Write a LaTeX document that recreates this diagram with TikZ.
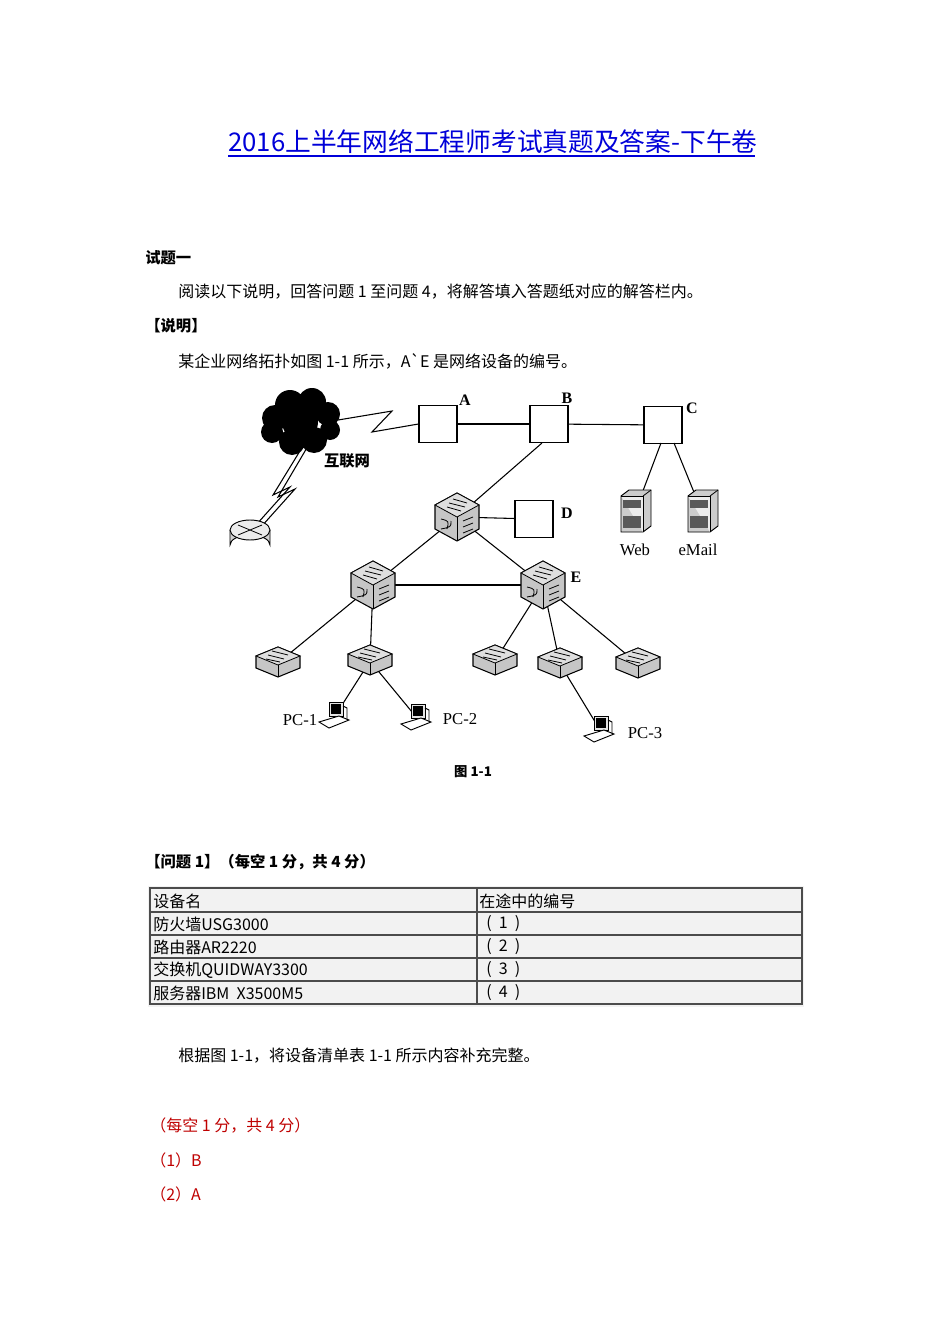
\documentclass[tikz,border=0pt]{standalone}
\usepackage{fontspec}
\setmainfont{Liberation Serif}
\newfontfamily\cjk{Noto Sans CJK SC}
\begin{document}
\begin{tikzpicture}[x=0.75pt,y=-0.75pt,
  txt/.style={anchor=west,inner sep=0,font=\cjk\fontsize{12}{14}\selectfont},
  btxt/.style={anchor=west,inner sep=0,font=\cjk\bfseries\fontsize{11.5}{13}\selectfont},
  rtxt/.style={txt,text=red!75!black},
  lbl/.style={inner sep=0,font=\bfseries\fontsize{12}{14}\selectfont},
  plbl/.style={inner sep=0,font=\fontsize{12.5}{14}\selectfont},
  dev/.style={draw,fill=white,minimum width=28.5pt,minimum height=28pt,inner sep=0,line width=0.8pt},
  pt/.style={inner sep=0,minimum size=0},
  ln/.style={line width=0.8pt},
  cell/.style={anchor=west,inner sep=0,font=\cjk\fontsize{12}{13}\selectfont},
  bigsw/.pic={\filldraw[fill=gray!45,line width=0.8pt] (0,-24)--(22,-12)--(22,12)--(0,24)--(-22,12)--(-22,-12)--cycle;
    \draw[line width=0.6pt,fill=gray!25] (0,-24)--(22,-12)--(0,0)--(-22,-12)--cycle;
    \draw[line width=0.6pt] (0,0)--(0,24);
    \draw[line width=0.6pt] (-8,-14)--(8,-10) (-4,-18)--(10,-14) (-10,-10)--(4,-6);
    \draw[line width=0.6pt] (-16,2) .. controls (-8,4) .. (-10,12) (-16,12) .. controls (-6,10) .. (-6,4);
    \draw[line width=0.6pt] (6,4)--(16,0) (6,10)--(16,6) (6,16)--(16,12);},
  smsw/.pic={\filldraw[fill=gray!45,line width=0.8pt] (0,-16)--(22,-7)--(22,5)--(0,14)--(-22,5)--(-22,-7)--cycle;
    \draw[line width=0.6pt,fill=gray!25] (0,-16)--(22,-7)--(0,2)--(-22,-7)--cycle;
    \draw[line width=0.6pt] (0,2)--(0,14);
    \draw[line width=0.6pt] (-10,-8)--(6,-4) (-6,-12)--(10,-8) (-12,-4)--(2,-1);},
  server/.pic={\filldraw[fill=gray!40,line width=0.7pt] (-14,-16)--(-6,-22)--(16,-22)--(16,14)--(8,20)--(-14,20)--cycle;
    \draw[line width=0.6pt,fill=gray!15] (-14,-16)--(8,-16)--(8,20);
    \draw[line width=0.6pt] (8,-16)--(16,-22);
    \fill[gray!70!black] (-12,-12) rectangle (6,-4);
    \fill[gray!70!black] (-12,4) rectangle (6,16);},
  pc/.pic={\filldraw[fill=gray!20,line width=0.7pt] (-6,-14) rectangle (8,0);
    \fill[black] (-4,-12) rectangle (6,-2);
    \filldraw[fill=white,line width=0.7pt] (-16,6)--(4,0)--(14,4)--(-6,12)--cycle;
    \draw[line width=0.7pt] (8,-10)--(12,-8)--(12,4);}
]
\useasboundingbox (0,0) rectangle (950,1344);
\fill[white] (0,0) rectangle (950,1344);
% title
\node[inner sep=0,anchor=west,text=blue!85!black,font=\cjk\fontsize{19.3}{21}\selectfont] (title) at (228,142) {2016上半年网络工程师考试真题及答案-下午卷};
\draw[blue!85!black,line width=0.8pt] (228,156) -- (755,156);
\node[btxt] (t1) at (145,258) {试题一};
\node[txt] (t2) at (178,292) {阅读以下说明，回答问题 1 至问题 4，将解答填入答题纸对应的解答栏内。};
\node[btxt] (t3) at (145,326) {【说明】};
\node[txt] (t4) at (178,361) {某企业网络拓扑如图 1-1 所示，A`E 是网络设备的编号。};
% cloud
\fill[black] (275,418) circle (13) (290,405) circle (15) (312,402) circle (14) (328,414) circle (12) (330,430) circle (10) (314,440) circle (13) (292,442) circle (13) (272,432) circle (11) (300,422) circle (18);
\node[pt] (cloud) at (303,425) {};
\node[inner sep=0,font=\cjk\bfseries\fontsize{11.5}{13}\selectfont] (inet) at (347,461) {互联网};
% boxes
\node[dev] (A) at (438,424) {};
\node[dev] (B) at (549,424) {};
\node[dev] (C) at (663,425) {};
\node[dev] (D) at (534,519) {};
\node[lbl] (lA) at (465,400) {A};
\node[lbl] (lB) at (567,398) {B};
\node[lbl] (lC) at (692,408) {C};
\node[lbl] (lD) at (567,513) {D};
\node[lbl] (lE) at (576,577) {E};
% lightning
\draw[ln] (338,420) -- (392,411) -- (372,432) -- (A.west);
\draw[ln] (303,446) -- (273,495) -- (290,487) -- (256,525);
\draw[ln] (308,446) -- (278,497) -- (295,489) -- (261,527);
% router
\node[pt] (R) at (250,538) {};
\filldraw[fill=gray!35,line width=0.7pt] (230,530) -- (230,545) arc (180:360:20 and 10) -- (270,530);
\filldraw[fill=gray!15,line width=0.7pt] (250,530) ellipse (20 and 10);
\draw[line width=0.6pt] (238,525)--(262,535) (238,535)--(262,525);
% switch and device points
\node[pt] (S0) at (457,517) {};
\node[pt] (S1) at (373,585) {};
\node[pt] (SE) at (543,585) {};
\node[pt] (a1) at (278,663) {};
\node[pt] (a2) at (370,661) {};
\node[pt] (a3) at (495,661) {};
\node[pt] (a4) at (560,664) {};
\node[pt] (a5) at (638,664) {};
\node[pt] (p1) at (335,716) {};
\node[pt] (p2) at (417,718) {};
\node[pt] (p3) at (600,730) {};
\node[pt] (web) at (635,512) {};
\node[pt] (mail) at (702,512) {};
% links
\draw[ln] (A) -- (B);
\draw[ln] (B) -- (C);
\draw[ln] (542,443) -- (S0);
\draw[ln] (S0) -- (D);
\draw[ln] (S0) -- (S1);
\draw[ln] (S0) -- (SE);
\draw[ln] (S1) -- (SE);
\draw[ln] (S1) -- (a1);
\draw[ln] (S1) -- (a2);
\draw[ln] (SE) -- (a3);
\draw[ln] (SE) -- (a4);
\draw[ln] (SE) -- (a5);
\draw[ln] (a2) -- (p1);
\draw[ln] (a2) -- (p2);
\draw[ln] (a4) -- (p3);
\draw[ln] (661,443) -- (web);
\draw[ln] (674,443) -- (mail);
% icons
\pic at (S0) {bigsw};
\pic at (S1) {bigsw};
\pic at (SE) {bigsw};
\foreach \n in {a1,a2,a3,a4,a5} {\pic at (\n) {smsw};}
\foreach \n in {p1,p2,p3} {\pic at (\n) {pc};}
\pic at (web) {server};
\pic at (mail) {server};
\node[plbl] (lw) at (635,550) {Web};
\node[plbl] (lm) at (698,550) {eMail};
\node[plbl] (l1) at (300,720) {PC-1};
\node[plbl] (l2) at (460,719) {PC-2};
\node[plbl] (l3) at (645,733) {PC-3};
\node[inner sep=0,font=\cjk\bfseries\fontsize{10}{12}\selectfont] (fig) at (473,772) {图 1-1};
% question
\node[btxt] (q1) at (145,862) {【问题 1】（每空 1 分，共 4 分）};
% table
\fill[gray!10] (148,886) rectangle (804,1007);
\draw[gray!60!black,line width=1.6pt] (150,888) rectangle (802,1004);
\foreach \y in {912,935,958,981} {\draw[gray!60!black,line width=1.4pt] (150,\y) -- (802,\y);}
\draw[gray!60!black,line width=1.4pt] (477,888) -- (477,1004);
\node[cell] (c11) at (153,901) {设备名};
\node[cell] (c12) at (479,901) {在途中的编号};
\node[cell] (c21) at (153,924) {防火墙USG3000};
\node[cell] (c22) at (486,924) {(\ \ 1\ \ )};
\node[cell] (c31) at (153,947) {路由器AR2220};
\node[cell] (c32) at (486,947) {(\ \ 2\ \ )};
\node[cell] (c41) at (153,970) {交换机QUIDWAY3300};
\node[cell] (c42) at (486,970) {(\ \ 3\ \ )};
\node[cell] (c51) at (153,993) {服务器IBM\ \ X3500M5};
\node[cell] (c52) at (486,993) {(\ \ 4\ \ )};
\node[txt] (t5) at (178,1056) {根据图 1-1，将设备清单表 1-1 所示内容补充完整。};
\node[rtxt] (r1) at (150,1125) {（每空 1 分，共 4 分）};
\node[rtxt] (r2) at (150,1160) {（1）B};
\node[rtxt] (r3) at (150,1194) {（2）A};
\end{tikzpicture}
\end{document}
